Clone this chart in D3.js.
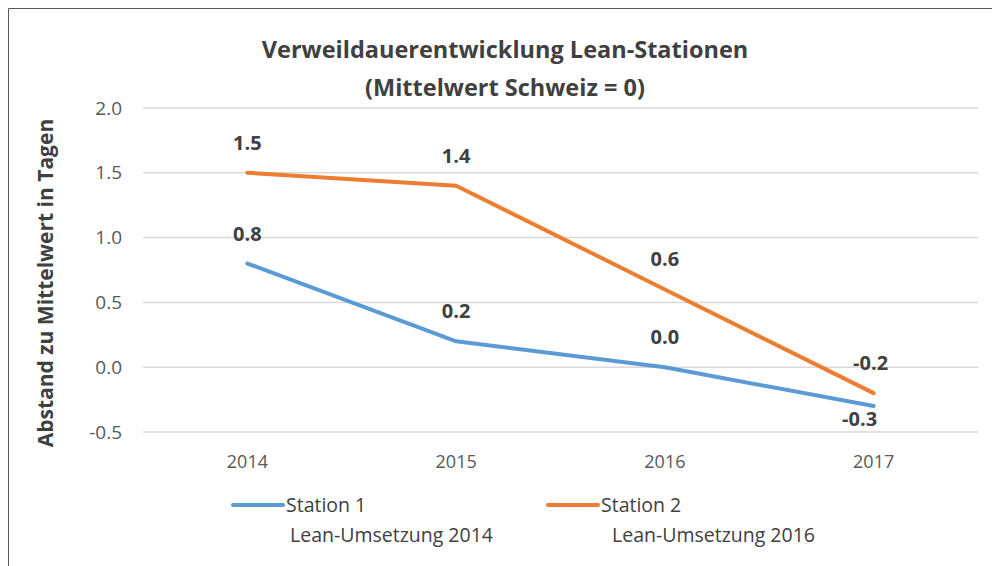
<!DOCTYPE html>
<html>
<head>
<meta charset="utf-8">
<script src="https://cdn.jsdelivr.net/npm/d3@7"></script>
<style>
  body { margin: 0; background: #fff; }
  text { font-family: "Open Sans", sans-serif; }
</style>
</head>
<body>
<script>
const years = ["2014", "2015", "2016", "2017"];
const station1 = [0.8, 0.2, 0.0, -0.3];
const station2 = [1.5, 1.4, 0.6, -0.2];
const yTicks = [-0.5, 0, 0.5, 1.0, 1.5, 2.0];
const seriesNames = ["Station 1", "Station 2"];
const seriesSub = ["Lean-Umsetzung 2014", "Lean-Umsetzung 2016"];
const colors = ["#5b9bd5", "#ed7d31"];

const width = 992, height = 566;
const margin = {top: 108, right: 14, bottom: 134, left: 143};
const fmt = v => d3.format(".1f")(v).replace("\u2212", "-");

const svg = d3.select("body").append("svg")
    .attr("width", width)
    .attr("height", height);

// frame
svg.append("path")
    .attr("d", `M8.5,${height} V8.5 H${width}`)
    .attr("fill", "none")
    .attr("stroke", "#595959")
    .attr("stroke-width", 1);

const x = d3.scaleBand()
    .domain(years)
    .range([margin.left, width - margin.right]);

const y = d3.scaleLinear()
    .domain([-0.5, 2.0])
    .range([height - margin.bottom, margin.top]);

// grid
svg.append("g")
    .selectAll("line")
    .data(yTicks)
    .join("line")
      .attr("x1", margin.left)
      .attr("x2", width - margin.right)
      .attr("y1", d => y(d))
      .attr("y2", d => y(d))
      .attr("stroke", "#d9d9d9")
      .attr("stroke-width", 1.5);

// y axis labels
svg.append("g")
    .attr("transform", `translate(${margin.left - 18},0)`)
    .call(d3.axisLeft(y).tickValues(yTicks).tickFormat(fmt).tickSize(0))
    .call(g => g.select(".domain").remove())
    .call(g => g.selectAll("text")
        .attr("font-family", "'Open Sans', sans-serif")
        .attr("font-size", 19)
        .attr("fill", "#595959"));

// x axis labels
svg.append("g")
    .attr("transform", `translate(0,${y(-0.5) + 20})`)
    .call(d3.axisBottom(x).tickSize(0))
    .call(g => g.select(".domain").remove())
    .call(g => g.selectAll("text")
        .attr("font-family", "'Open Sans', sans-serif")
        .attr("font-size", 18)
        .attr("fill", "#595959"));

const cx = d => x(d) + x.bandwidth() / 2;
const line = d3.line()
    .x((d, i) => cx(years[i]))
    .y(d => y(d));

[station1, station2].forEach((s, k) => {
  svg.append("path")
      .datum(s)
      .attr("d", line)
      .attr("fill", "none")
      .attr("stroke", colors[k])
      .attr("stroke-width", 4)
      .attr("stroke-linecap", "round")
      .attr("stroke-linejoin", "round");
});

// data labels
const labels = [];
station1.forEach((v, i) => labels.push({v, i, below: i === 3}));
station2.forEach((v, i) => labels.push({v, i, below: false}));

svg.append("g")
    .selectAll("text")
    .data(labels)
    .join("text")
      .attr("x", d => cx(years[d.i]) + (d.below ? -14 : d.i === 3 ? -3 : 0))
      .attr("y", d => y(d.v) + (d.below ? 20 : -23))
      .attr("text-anchor", "middle")
      .attr("font-size", 20)
      .attr("font-weight", "bold")
      .attr("fill", "#404040")
      .text(d => fmt(d.v));

// title
const title = ["Verweildauerentwicklung Lean-Stationen", "(Mittelwert Schweiz = 0)"];
title.forEach((t, i) => {
  svg.append("text")
      .attr("x", 505)
      .attr("y", 58 + i * 38)
      .attr("text-anchor", "middle")
      .attr("font-size", 23.5)
      .attr("font-weight", "bold")
      .attr("fill", "#404040")
      .text(t);
});

// y title
svg.append("text")
    .attr("transform", `translate(53,${(y(2.0) + y(-0.5)) / 2 + 13}) rotate(-90)`)
    .attr("text-anchor", "middle")
    .attr("font-size", 21)
    .attr("font-weight", "bold")
    .attr("fill", "#404040")
    .text("Abstand zu Mittelwert  in Tagen");

// legend
const legendX = [230, 545];
seriesNames.forEach((name, k) => {
  const g = svg.append("g").attr("transform", `translate(${legendX[k]},505)`);
  g.append("line")
      .attr("x1", 3).attr("x2", 53)
      .attr("stroke", colors[k])
      .attr("stroke-width", 4)
      .attr("stroke-linecap", "round");
  g.append("text")
      .attr("x", 56).attr("y", 7)
      .attr("font-size", 19.5)
      .attr("fill", "#404040")
      .text(name);
  g.append("text")
      .attr("x", 58 + (k ? 9 : 2)).attr("y", 37)
      .attr("font-size", 19.5)
      .attr("fill", "#404040")
      .text(seriesSub[k]);
});
</script>
</body>
</html>
